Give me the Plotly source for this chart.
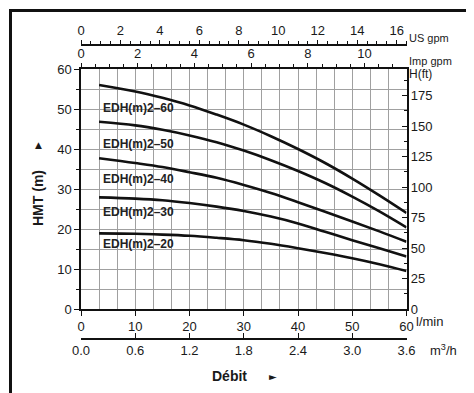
import plotly.graph_objects as go

# page is 474x393; the figure div sits 8px in from the page edge (body margin)
OFF = 8
W, H = 474 - OFF, 393 - OFF

# Data (flow in l/min, head in m)
flow = [3.33, 10, 15, 20, 25, 30, 35, 40, 45, 50, 55, 60]
edh2_60 = [56.0, 54.4, 52.8, 50.9, 48.6, 46.1, 43.2, 40.0, 36.5, 32.6, 28.4, 24.0]
edh2_50 = [46.8, 45.9, 44.8, 43.4, 41.7, 39.6, 37.2, 34.5, 31.5, 28.1, 24.4, 20.4]
edh2_40 = [37.7, 36.5, 35.5, 34.2, 32.8, 31.0, 29.0, 26.7, 24.3, 21.9, 19.4, 16.8]
edh2_30 = [27.9, 27.6, 27.2, 26.5, 25.6, 24.5, 23.1, 21.4, 19.3, 17.2, 15.2, 13.1]
edh2_20 = [18.9, 18.8, 18.6, 18.3, 17.8, 17.2, 16.3, 15.2, 14.0, 12.7, 11.2, 9.5]
series_names = ["EDH(m)2\u201360", "EDH(m)2\u201350", "EDH(m)2\u201340", "EDH(m)2\u201330", "EDH(m)2\u201320"]
series_vals = [edh2_60, edh2_50, edh2_40, edh2_30, edh2_20]
label_y = [50.3, 41.2, 32.4, 24.3, 16.2]
label_x = 3.7

m3h_ticks = [0.0, 0.6, 1.2, 1.8, 2.4, 3.0, 3.6]
ft_ticks = [0, 25, 50, 75, 100, 125, 150, 175]

def px(x):
    return (x - OFF) / W

def py(y):
    return 1 - (y - OFF) / H

FONT = "Liberation Sans, Arial, sans-serif"
TXT = "#1a1a1a"
GRID = "#a0a0a0"

dx = [px(81), px(406.5)]
dy = [py(309), py(69)]

fig = go.Figure()
for name, vals in zip(series_names, series_vals):
    fig.add_trace(go.Scatter(x=flow, y=vals, mode="lines", line=dict(color="#111", width=2.6,
                             shape="spline", smoothing=1.0), name=name, showlegend=False,
                             hoverinfo="skip", xaxis="x", yaxis="y"))
# dummy traces for other axes
for xa, ya in (("x2", "y"), ("x3", "y"), ("x4", "y"), ("x", "y2")):
    fig.add_trace(go.Scatter(x=[0], y=[0], xaxis=xa, yaxis=ya, mode="markers",
                             marker=dict(opacity=0), showlegend=False, hoverinfo="skip"))

tickfont = dict(family=FONT, size=13, color=TXT)

annotations = []
for name, ly in zip(series_names, label_y):
    annotations.append(dict(x=label_x, y=ly, xref="x", yref="y", text="<b>" + name + "</b>",
                            showarrow=False, xanchor="left", yanchor="middle",
                            font=dict(family=FONT, size=12, color="#222")))

def ann(x, y, text, size=12, xanchor="left", bold=False, angle=0, family=FONT):
    annotations.append(dict(x=px(x), y=py(y), xref="paper", yref="paper",
                            text=("<b>%s</b>" % text) if bold else text, showarrow=False,
                            xanchor=xanchor, yanchor="middle", textangle=angle,
                            font=dict(family=family, size=size, color=TXT)))

ann(407, 38, "US gpm", 11)
ann(407, 61, "Imp gpm", 11)
ann(407, 74, "H(ft)", 12)
ann(414, 321, "l/min", 13)
ann(428, 350, "m<sup>3</sup>/h", 13)
ann(229, 376, "Débit", 14, "center", bold=True)
ann(273, 376, "►", 10, "center", family="DejaVu Sans")
ann(38, 198, "HMT (m)", 14, "center", bold=True, angle=-90)
ann(38, 145, "▲", 9, "center", family="DejaVu Sans")

fig.update_layout(
    width=W, height=H,
    margin=dict(l=0, r=0, t=0, b=0, pad=0, autoexpand=False),
    paper_bgcolor="white", plot_bgcolor="white",
    showlegend=False,
    xaxis=dict(domain=dx, range=[0, 60], tickmode="linear", tick0=0, dtick=10,
               showgrid=True, gridcolor=GRID, gridwidth=1.2,
               minor=dict(tickmode="linear", tick0=0, dtick=10/3, showgrid=True,
                          gridcolor=GRID, gridwidth=1.2, ticks=""),
               ticks="outside", ticklen=5, tickwidth=1.3, tickcolor="#111",
               showline=True, linecolor="#111", linewidth=1.5, zeroline=False,
               tickfont=tickfont, fixedrange=True, automargin=False),
    xaxis2=dict(overlaying="x", anchor="free", position=py(339), domain=dx, side="bottom",
                range=[0, 3.6], tickmode="array", tickvals=m3h_ticks,
                ticktext=["%.1f" % v for v in m3h_ticks],
                ticks="inside", ticklen=5, tickwidth=1.3, tickcolor="#111",
                showline=True, linecolor="#111", linewidth=1.5, showgrid=False,
                zeroline=False, tickfont=tickfont, automargin=False),
    xaxis3=dict(overlaying="x", anchor="y", side="top", domain=dx, range=[0, 11.48],
                tickmode="linear", tick0=0, dtick=2, ticks="outside", ticklen=4,
                tickwidth=1.3, tickcolor="#111",
                minor=dict(tickmode="linear", tick0=0, dtick=0.5, ticks="outside", ticklen=3,
                           tickwidth=1, tickcolor="#111", showgrid=False),
                showline=True, linecolor="#111", linewidth=1.5, showgrid=False,
                zeroline=False, tickfont=tickfont, automargin=False),
    xaxis4=dict(overlaying="x", anchor="free", position=py(45), side="top", domain=dx,
                range=[0, 16.5], tickmode="linear", tick0=0, dtick=2, ticks="outside",
                ticklen=4, tickwidth=1.3, tickcolor="#111",
                minor=dict(tickmode="linear", tick0=0, dtick=0.5, ticks="outside", ticklen=3,
                           tickwidth=1, tickcolor="#111", showgrid=False),
                showline=True, linecolor="#111", linewidth=1.5, showgrid=False,
                zeroline=False, tickfont=tickfont, automargin=False),
    yaxis=dict(domain=dy, range=[0, 60], tickmode="linear", tick0=0, dtick=10,
               showgrid=True, gridcolor=GRID, gridwidth=1.2,
               minor=dict(tickmode="linear", tick0=0, dtick=5, showgrid=True, gridcolor=GRID,
                          gridwidth=1.2, ticks="outside", ticklen=3, tickcolor="#111"),
               ticks="outside", ticklen=5, tickwidth=1.3, tickcolor="#111",
               showline=True, linecolor="#111", linewidth=1.5, zeroline=False,
               tickfont=tickfont, fixedrange=True, automargin=False),
    yaxis2=dict(overlaying="y", anchor="x", side="right", domain=dy, range=[0, 60 * 3.28084],
                tickmode="array", tickvals=ft_ticks, ticks="inside", ticklen=5, tickwidth=1.3,
                tickcolor="#111",
                minor=dict(tickmode="linear", tick0=0, dtick=12.5, ticks="inside", ticklen=3,
                           tickwidth=1, tickcolor="#111", showgrid=False),
                showline=True, linecolor="#111", linewidth=1.5, showgrid=False,
                zeroline=False, tickfont=tickfont, automargin=False),
    annotations=annotations,
    shapes=[
        dict(type="line", xref="paper", yref="paper", x0=px(9), x1=1, y0=py(10.5), y1=py(10.5),
             line=dict(color="#111", width=3)),
        dict(type="line", xref="paper", yref="paper", x0=px(10.5), x1=px(10.5), y0=py(9), y1=0,
             line=dict(color="#111", width=3)),
    ],
)

fig.write_html("out.html")
